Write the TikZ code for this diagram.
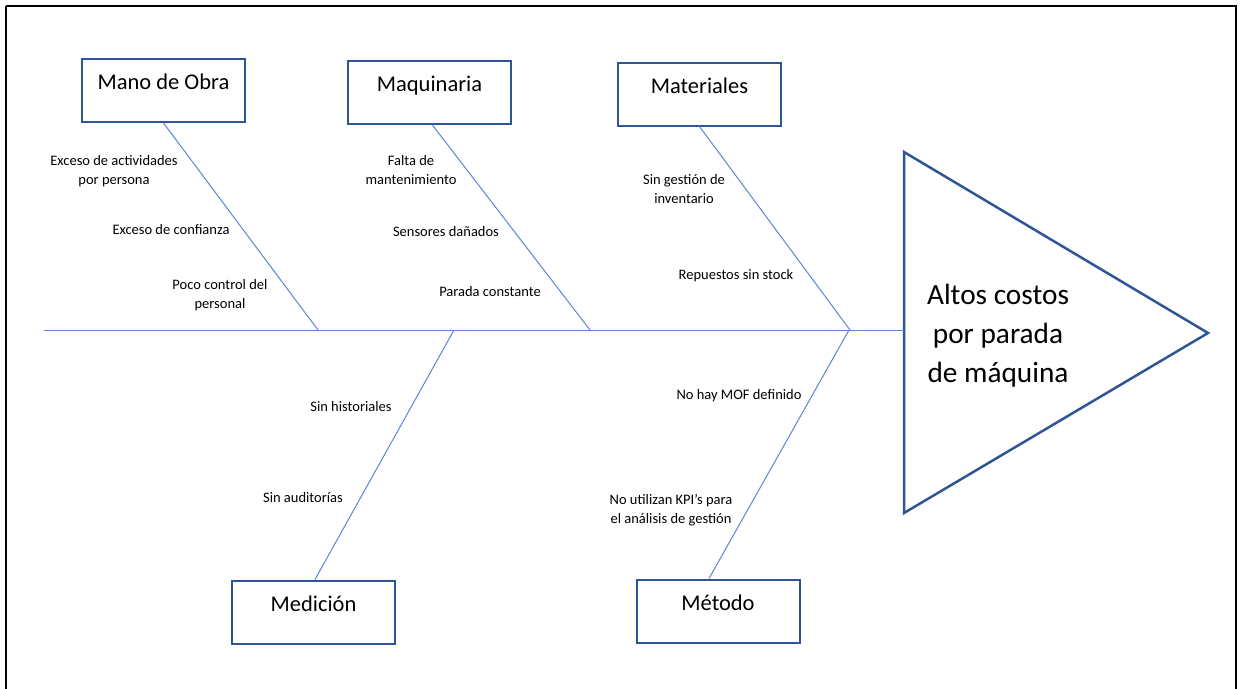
\documentclass[tikz,border=0pt]{standalone}
\usepackage{fontspec}
\setmainfont{Carlito}
\definecolor{boxblue}{HTML}{2F5597}
\definecolor{bonblue}{HTML}{5B86D0}
\begin{document}
\begin{tikzpicture}[x=1pt,y=-1pt,
  catbox/.style={draw=boxblue, line width=2pt, rectangle, minimum width=163pt,
    minimum height=63pt, inner sep=0pt, text height=14pt, text depth=16pt,
    font=\fontsize{22.5}{27}\selectfont},
  bone/.style={draw=bonblue, line width=1pt},
  cause/.style={align=center, inner sep=0pt, font=\fontsize{14.5}{19.5}\selectfont},
  effect/.style={align=center, inner sep=0pt, font=\fontsize{29.3}{39}\selectfont}]
\useasboundingbox (0,0) rectangle (1241,688);
% frame
\draw[line width=2pt] (6,6) -- (1236,6) -- (1236,700) (6,6) -- (6,700);

% head of the fish
\coordinate (hl) at (904,330);
\coordinate (htop) at (904,152);
\coordinate (hbot) at (904,513);
\coordinate (htip) at (1208,333);
\draw[boxblue, line width=2.5pt, line join=miter] (htop) -- (htip) -- (hbot) -- cycle;
\node[effect] (efecto) at (998,336) {Altos costos\\por parada\\de máquina};

% spine
\coordinate (tail) at (44,330);
\coordinate (j1) at (318,330);
\coordinate (j2) at (590,330);
\coordinate (j3) at (850,330);
\coordinate (j4) at (454,330);
\coordinate (j5) at (849,330);
\draw[bone] (tail) -- (hl);

% category boxes
\node[catbox] (mo)  at (163.5,90.5) {Mano de Obra};
\node[catbox] (maq) at (429.5,92)   {Maquinaria};
\node[catbox] (mat) at (699.5,94)   {Materiales};
\node[catbox] (med) at (313.5,612)  {Medición};
\node[catbox] (met) at (718,611)    {Método};

% bones
\draw[bone] (mo.south) -- (j1);
\draw[bone] ([xshift=2.5pt]maq.south) -- (j2);
\draw[bone] (mat.south) -- (j3);
\draw[bone] ([xshift=1.5pt]med.north) -- (j4);
\draw[bone] ([xshift=-9pt]met.north) -- (j5);

% causes
\node[cause] (c1)  at (114,171) {Exceso de actividades\\por persona};
\node[cause] (c2)  at (171,230) {Exceso de confianza};
\node[cause] (c3)  at (220,295) {Poco control del\\personal};
\node[cause] (c4)  at (411,170) {Falta de\\mantenimiento};
\node[cause] (c5)  at (446,232) {Sensores dañados};
\node[cause] (c6)  at (490,292) {Parada constante};
\node[cause] (c7)  at (684,189) {Sin gestión de\\inventario};
\node[cause] (c8)  at (736,276) {Repuestos sin stock};
\node[cause] (c9)  at (351,407) {Sin historiales};
\node[cause] (c10) at (303,498) {Sin auditorías};
\node[cause] (c11) at (739,396) {No hay MOF definido};
\node[cause] (c12) at (671,510) {No utilizan KPI’s para\\el análisis de gestión};
\end{tikzpicture}
\end{document}
